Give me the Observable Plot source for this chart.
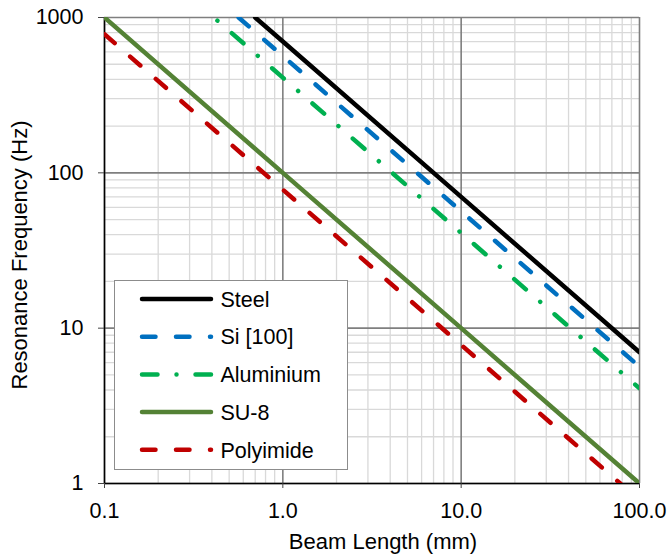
<!DOCTYPE html>
<html>
<head>
<meta charset="utf-8">
<script src="https://cdn.jsdelivr.net/npm/d3@7"></script>
<script src="https://cdn.jsdelivr.net/npm/@observablehq/plot@0.6"></script>
<style>
  html, body { margin: 0; padding: 0; background: #fff; }
  #chart { width: 667px; height: 555px; }
</style>
</head>
<body>
<div id="chart"></div>
<script>
// ---- data ----
const seriesNames = ["Steel", "Si [100]", "Aluminium", "SU-8", "Polyimide"];
const steelLength = [0.7, 1, 10, 100];
const steelFreq   = [1000, 700, 70, 7];
const siLength    = [0.565, 1, 10, 100];
const siFreq      = [1000, 565, 56.5, 5.65];
const alLength    = [0.41, 1, 10, 100];
const alFreq      = [1000, 410, 41, 4.1];
const su8Length   = [0.1, 1, 10, 100];
const su8Freq     = [1000, 100, 10, 1];
const polyLength  = [0.1, 1, 10, 78];
const polyFreq    = [780, 78, 7.8, 1];

const xMajor = [0.1, 1, 10, 100];
const xTickLabels = ["0.1", "1.0", "10.0", "100.0"];
const yMajor = [1, 10, 100, 1000];
const yTickLabels = ["1", "10", "100", "1000"];
const xTitle = "Beam Length (mm)";
const yTitle = "Resonance Frequency (Hz)";

// ---- styles ----
const styles = [
  {color: "#000000", dash: null, offset: 0},
  {color: "#0070C0", dash: "13.5,20.5", offset: 0},
  {color: "#00B050", dash: "15.5,19,0.01,19", offset: 29.7},
  {color: "#548235", dash: null, offset: 0},
  {color: "#C00000", dash: "13.5,20.5", offset: 0}
];
const lengths = [steelLength, siLength, alLength, su8Length, polyLength];
const freqs = [steelFreq, siFreq, alFreq, su8Freq, polyFreq];

const minorOf = (majors) => {
  const out = [];
  for (let k = 0; k < majors.length - 1; k++)
    for (let m = 2; m <= 9; m++) out.push(majors[k] * m);
  return out;
};
const xMinor = minorOf(xMajor);
const yMinor = minorOf(yMajor);

const font = "'Liberation Sans', Arial, sans-serif";

const seriesMarks = seriesNames.map((name, i) => {
  const rows = lengths[i].map((L, j) => ({L, f: freqs[i][j]}));
  return Plot.line(rows, {
    x: "L", y: "f", stroke: styles[i].color, strokeWidth: 4.5,
    strokeLinecap: "round", strokeLinejoin: "round",
    strokeDasharray: styles[i].dash || undefined,
    strokeDashoffset: styles[i].offset,
    clip: true
  });
});

const chart = Plot.plot({
  width: 667, height: 555,
  marginLeft: 104, marginRight: 28, marginTop: 17, marginBottom: 72,
  x: {type: "log", domain: [0.1, 100]},
  y: {type: "log", domain: [1, 1000]},
  style: {fontFamily: font, fontSize: "21.5px", color: "#000", background: "#fff"},
  marks: [
    Plot.ruleX(xMinor, {stroke: "#d9d9d9", strokeWidth: 1.3}),
    Plot.ruleY(yMinor, {stroke: "#d9d9d9", strokeWidth: 1.3}),
    Plot.ruleX(xMajor, {stroke: "#7f7f7f", strokeWidth: 1.6}),
    Plot.ruleY(yMajor, {stroke: "#7f7f7f", strokeWidth: 1.6}),
    Plot.ruleX([xMajor[0]], {stroke: "#000", strokeWidth: 1.5}),
    Plot.ruleY([yMajor[0]], {stroke: "#000", strokeWidth: 1.5}),
    Plot.axisX({ticks: xMajor, tickFormat: d => xTickLabels[xMajor.indexOf(d)],
      tickSize: 5, tickPadding: 14, label: null, stroke: "#444"}),
    Plot.axisY({ticks: yMajor, tickFormat: d => yTickLabels[yMajor.indexOf(d)],
      tickSize: 6, tickPadding: 15, label: null, stroke: "#444"}),
    ...seriesMarks
  ]
});
document.getElementById("chart").appendChild(chart);

// ---- titles and legend ----
const svg = d3.select(chart);
svg.append("text").attr("x", 383).attr("y", 549)
  .attr("text-anchor", "middle").attr("font-family", font).attr("font-size", 22)
  .attr("fill", "#000").text(xTitle);
svg.append("text").attr("transform", "translate(27,255) rotate(-90)")
  .attr("text-anchor", "middle").attr("font-family", font).attr("font-size", 22)
  .attr("fill", "#000").text(yTitle);

const lg = svg.append("g");
lg.append("rect").attr("x", 114.5).attr("y", 280.5).attr("width", 233).attr("height", 189)
  .attr("fill", "#fff").attr("stroke", "#8c8c8c").attr("stroke-width", 1);
seriesNames.forEach((name, i) => {
  const y = 299 + i * 37.7;
  const ln = lg.append("line").attr("x1", 142).attr("x2", 211).attr("y1", y).attr("y2", y)
    .attr("stroke", styles[i].color).attr("stroke-width", 4.5).attr("stroke-linecap", "round");
  if (styles[i].dash) ln.attr("stroke-dasharray", styles[i].dash);
  lg.append("text").attr("x", 220.5).attr("y", y).attr("dy", "0.36em")
    .attr("text-anchor", "start")
    .attr("font-family", font).attr("font-size", 21.5).attr("fill", "#000").text(name);
});
</script>
</body>
</html>
